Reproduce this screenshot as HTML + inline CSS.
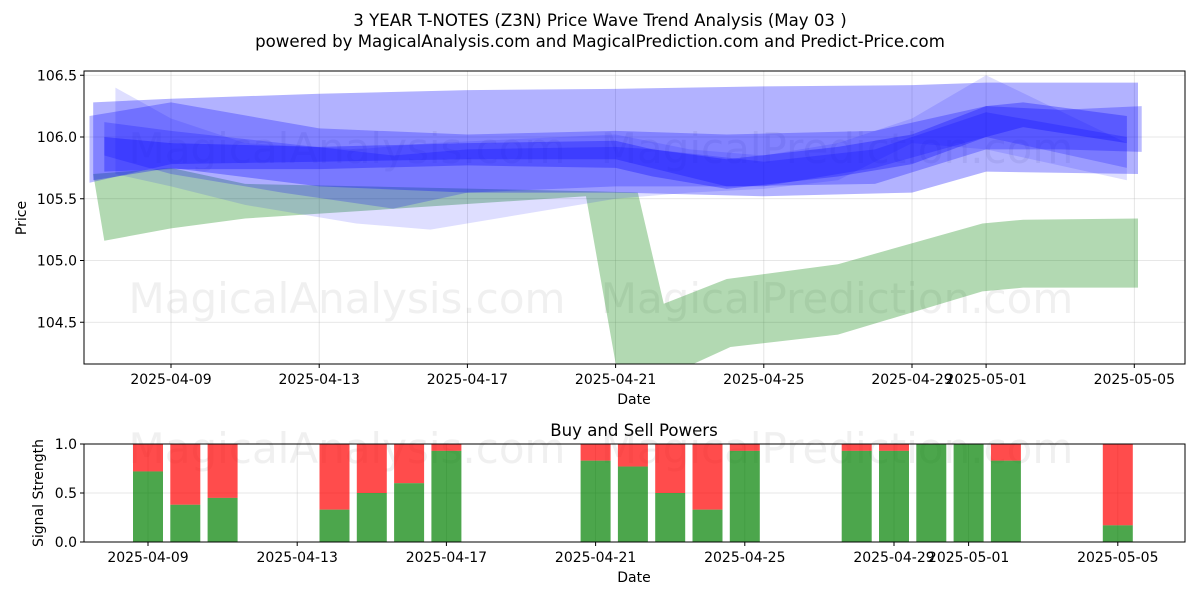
<!DOCTYPE html>
<html><head><meta charset="utf-8"><style>
body{margin:0;background:#fff;}
svg text{font-family:"DejaVu Sans","Liberation Sans",sans-serif;fill:#000;}
</style></head><body>
<svg id="c" width="1200" height="600" xmlns="http://www.w3.org/2000/svg"></svg>
<script>
// ---- data ----
const xTickLabels = ["2025-04-09","2025-04-13","2025-04-17","2025-04-21","2025-04-25","2025-04-29","2025-05-01","2025-05-05"];
const xTickDays = [0,4,8,12,16,20,22,26];
const yTicks = [104.5,105.0,105.5,106.0,106.5];
const sigTicks = [0.0,0.5,1.0];
const greenUpDays = [-2.1,0,2,11.5,12.6,13.3,15,18,21.9,23,26.1];
const greenUp = [105.70,105.75,105.62,105.56,105.55,104.65,104.85,104.97,105.30,105.33,105.34];
const greenLoDays = [-1.8,0,2,11.2,12.1,13.5,15.1,18,21.9,23,26.1];
const greenLo = [105.16,105.26,105.34,105.52,104.0,104.08,104.30,104.40,104.75,104.78,104.78];
const bandADays = [-2.1,0,4,8,12,16,20,22,26.1];
const bandAUp = [106.28,106.31,106.35,106.38,106.39,106.41,106.42,106.44,106.44];
const bandALo = [105.65,105.75,105.6,105.55,105.55,105.52,105.55,105.72,105.70];
const bandBDays = [-2.2,0,4,8,12,15,19,22,24,26.2];
const bandBUp = [106.17,106.28,106.07,106.02,106.05,106.02,106.05,106.25,106.22,106.25];
const bandBLo = [105.63,105.78,105.8,105.82,105.82,105.6,105.62,105.9,105.9,105.88];
const bandCDays = [-1.8,0,4,8,12,13,15,18,20,22,23,25.8];
const bandCUp = [106.0,105.95,105.92,105.95,105.97,105.9,105.82,105.92,106.02,106.25,106.28,106.17];
const bandCLo = [105.72,105.74,105.74,105.77,105.75,105.68,105.58,105.68,105.78,106.0,106.08,105.95];
const bandDDays = [-1.5,0,2,5,7,12,14,16,18,20,22,25.8];
const bandDUp = [106.40,106.15,105.95,105.9,105.95,106.02,105.9,105.85,105.95,106.15,106.5,105.95];
const bandDLo = [105.7,105.6,105.45,105.3,105.25,105.5,105.55,105.58,105.65,105.95,105.9,105.65];
const bandEDays = [-1.8,0,3,6,8,12,13,16,19,22,25.8];
const bandEUp = [106.12,106.05,105.95,105.85,105.9,105.92,105.9,105.8,105.9,106.2,106.0];
const bandELo = [105.85,105.7,105.55,105.42,105.55,105.6,105.6,105.6,105.75,106.0,105.75];
const barDays = [0,1,2,5,6,7,8,12,13,14,15,16,19,20,21,22,23,26];
const buyPower = [0.72,0.38,0.45,0.33,0.5,0.6,0.93,0.83,0.77,0.5,0.33,0.93,0.93,0.93,1.0,1.0,0.83,0.17];

const NS="http://www.w3.org/2000/svg", svg=document.getElementById('c');
function el(t,a,p){const e=document.createElementNS(NS,t);for(const k in a)e.setAttribute(k,a[k]);(p||svg).appendChild(e);return e;}
const X=d=>171+37.05*d, Y=v=>137-(v-106)*123.5;
const X2=d=>148+37.3*d, Y2=v=>542-v*98;
const L=84,R=1185,T=71,B=364,T2=444,B2=542;

let t=el('text',{x:600,y:26,'text-anchor':'middle','font-size':16.6});t.textContent="3 YEAR T-NOTES (Z3N) Price Wave Trend Analysis (May 03 )";

t=el('text',{x:600,y:47,'text-anchor':'middle','font-size':16.6});t.textContent="powered by MagicalAnalysis.com and MagicalPrediction.com and Predict-Price.com";


const gTop=el('g',{});

xTickDays.forEach(d=>el('line',{x1:X(d),x2:X(d),y1:T,y2:B,stroke:'#b0b0b0','stroke-width':0.8,'stroke-opacity':0.4},gTop));
yTicks.forEach(v=>el('line',{x1:L,x2:R,y1:Y(v),y2:Y(v),stroke:'#b0b0b0','stroke-width':0.8,'stroke-opacity':0.4},gTop));

function wm(x,y,s,name){const w=el('text',{x:x,y:y,'text-anchor':'middle','font-size':42,style:'fill:#999;fill-opacity:0.15'});w.textContent=s;
}
wm(347,163,"MagicalAnalysis.com",'watermark-analysis-top');wm(837,163,"MagicalPrediction.com",'watermark-prediction-top');
wm(347,313,"MagicalAnalysis.com",'watermark-analysis');wm(837,313,"MagicalPrediction.com",'watermark-prediction');

const defs=el('defs',{});const cp=el('clipPath',{id:'cp'},defs);el('rect',{x:L,y:T,width:R-L,height:B-T},cp);
const plot=el('g',{'clip-path':'url(#cp)'});

function band(du,up,dl,lo,color,op,name){
  const pts=du.map((d,i)=>X(d)+','+Y(up[i]));
  for(let i=dl.length-1;i>=0;i--)pts.push(X(dl[i])+','+Y(lo[i]));
  const p=el('polygon',{points:pts.join(' '),fill:color,'fill-opacity':op},plot);
  
}
band(greenUpDays,greenUp,greenLoDays,greenLo,'#008000',0.3,'green-trend-band');
band(bandDDays,bandDUp,bandDDays,bandDLo,'#0000ff',0.13,'wave-band-d');
band(bandADays,bandAUp,bandADays,bandALo,'#0000ff',0.3,'wave-band-a');
band(bandEDays,bandEUp,bandEDays,bandELo,'#0000ff',0.22,'wave-band-e');
band(bandBDays,bandBUp,bandBDays,bandBLo,'#0000ff',0.27,'wave-band-b');
band(bandCDays,bandCUp,bandCDays,bandCLo,'#0000ff',0.3,'wave-band-c');

let fr=el('rect',{x:L,y:T,width:R-L,height:B-T,fill:'none',stroke:'#000','stroke-width':1});

xTickDays.forEach((d,i)=>{el('line',{x1:X(d),x2:X(d),y1:B,y2:B+4,stroke:'#000'});
 const tx=el('text',{x:X(d),y:B+20,'text-anchor':'middle','font-size':14});tx.textContent=xTickLabels[i];
 });
yTicks.forEach(v=>{el('line',{x1:L-4,x2:L,y1:Y(v),y2:Y(v),stroke:'#000'});
 const tx=el('text',{x:L-7,y:Y(v)+5,'text-anchor':'end','font-size':14});tx.textContent=v.toFixed(1);
 });
t=el('text',{x:634,y:404,'text-anchor':'middle','font-size':14});t.textContent="Date";

t=el('text',{x:26,y:218,'text-anchor':'middle','font-size':14,transform:'rotate(-90 26 218)'});t.textContent="Price";


t=el('text',{x:634,y:436,'text-anchor':'middle','font-size':16.6});t.textContent="Buy and Sell Powers";

const gB=el('g',{});

xTickDays.forEach(d=>el('line',{x1:X2(d),x2:X2(d),y1:T2,y2:B2,stroke:'#b0b0b0','stroke-width':0.8,'stroke-opacity':0.4},gB));
sigTicks.forEach(v=>el('line',{x1:L,x2:R,y1:Y2(v),y2:Y2(v),stroke:'#b0b0b0','stroke-width':0.8,'stroke-opacity':0.4},gB));
wm(347,463,"MagicalAnalysis.com",'watermark-analysis-bottom');wm(837,463,"MagicalPrediction.com",'watermark-prediction-bottom');
barDays.forEach((d,i)=>{
  const cx=X2(d),w=30,g=buyPower[i];
  const r=el('rect',{x:cx-w/2,y:Y2(1),width:w,height:Y2(g)-Y2(1),fill:'#ff0000','fill-opacity':0.7});
  
  const gr=el('rect',{x:cx-w/2,y:Y2(g),width:w,height:Y2(0)-Y2(g),fill:'#008000','fill-opacity':0.7});
  
});
fr=el('rect',{x:L,y:T2,width:R-L,height:B2-T2,fill:'none',stroke:'#000','stroke-width':1});

xTickDays.forEach((d,i)=>{el('line',{x1:X2(d),x2:X2(d),y1:B2,y2:B2+4,stroke:'#000'});
 const tx=el('text',{x:X2(d),y:B2+20,'text-anchor':'middle','font-size':14});tx.textContent=xTickLabels[i];
 });
sigTicks.forEach(v=>{el('line',{x1:L-4,x2:L,y1:Y2(v),y2:Y2(v),stroke:'#000'});
 const tx=el('text',{x:L-7,y:Y2(v)+5,'text-anchor':'end','font-size':14});tx.textContent=v.toFixed(1);
 });
t=el('text',{x:634,y:582,'text-anchor':'middle','font-size':14});t.textContent="Date";

t=el('text',{x:43,y:493,'text-anchor':'middle','font-size':14,transform:'rotate(-90 43 493)'});t.textContent="Signal Strength";

</script>
</body></html>
